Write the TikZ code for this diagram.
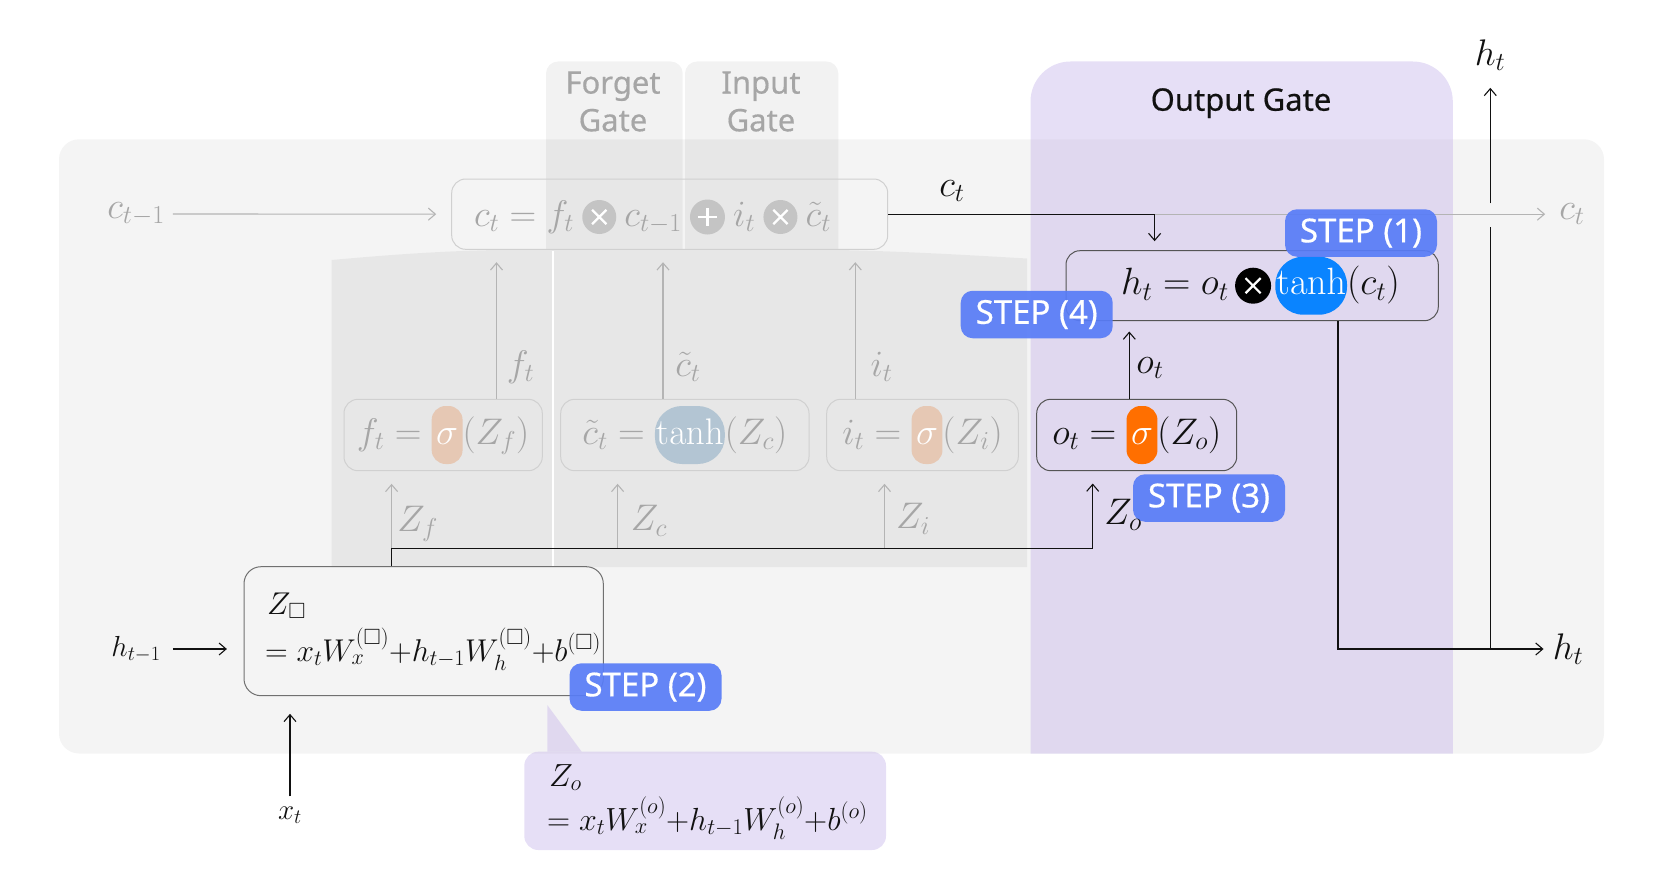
\RequirePackage{fix-cm}
\documentclass[tikz,border=0pt]{standalone}
\usepackage[no-math]{fontspec}
\usepackage{amssymb}
\usetikzlibrary{arrows.meta}
\newfontfamily\uisans{Noto Sans}[FakeBold=0.5]
\definecolor{bggray}{HTML}{F4F4F4}
\definecolor{fadetext}{HTML}{A6A6A6}
\definecolor{fadeline}{HTML}{B4B4B4}
\definecolor{fadeborder}{HTML}{D0D0D0}
\definecolor{fadecirc}{HTML}{C4C4C4}
\definecolor{fadesig}{HTML}{E6C8B4}
\definecolor{fadetanh}{HTML}{B3C5D3}
\definecolor{actsig}{HTML}{FF6F00}
\definecolor{acttanh}{HTML}{0A84FF}
\definecolor{stepblue}{HTML}{587CF7}
\definecolor{purplebase}{RGB}{200,184,235}
\definecolor{inkblack}{HTML}{111111}
\definecolor{darkborder}{HTML}{555555}
\definecolor{zborder}{HTML}{707070}
\newcommand\eqfont{\fontsize{37}{44}\selectfont}
\newcommand\heqfont{\fontsize{38}{45}\selectfont}
\newcommand\smfont{\fontsize{29}{35}\selectfont}
\newcommand\zfont{\fontsize{31.5}{38}\selectfont}
\newcommand\cofont{\fontsize{32}{38}\selectfont}
\newcommand\opcross[3]{\tikz[baseline=-9.25pt,x=1pt,y=1pt]{\fill[#1] (0,0) circle[radius=#3];\draw[#2,line width=2.2pt] (-0.42*#3,-0.42*#3) -- (0.42*#3,0.42*#3) (-0.42*#3,0.42*#3) -- (0.42*#3,-0.42*#3);}}
\newcommand\opplus[3]{\tikz[baseline=-9.25pt,x=1pt,y=1pt]{\fill[#1] (0,0) circle[radius=#3];\draw[#2,line width=2.2pt] (-0.52*#3,0) -- (0.52*#3,0) (0,-0.52*#3) -- (0,0.52*#3);}}
\newcommand\pill[4]{\tikz[baseline=(pillnode.base)]\node[draw=none,fill=#1,text=white,rounded corners=#2,minimum width=0pt,minimum height=0pt,inner xsep=#3,inner ysep=0pt,outer sep=0pt,text height=38.25pt,text depth=19.75pt] (pillnode) {$#4$};}
\begin{document}
\begin{tikzpicture}[x=1pt,y=-1pt,
  fadebox/.style={draw=fadeborder,line width=1pt,rounded corners=14pt,inner sep=0pt},
  actbox/.style={draw=darkborder,line width=1pt,rounded corners=14pt,inner sep=0pt},
  eqnode/.style={inner sep=0pt,text height=38.25pt,text depth=19.75pt,font=\eqfont},
  feq/.style={eqnode,text=fadetext},
  aeq/.style={eqnode,text=inkblack},
  mlbl/.style={inner sep=0pt,font=\eqfont,text=inkblack},
  flbl/.style={inner sep=0pt,font=\eqfont,text=fadetext},
  slbl/.style={inner sep=0pt,font=\smfont,text=inkblack},
  zlbl/.style={inner sep=0pt,font=\zfont,text=inkblack},
  clbl/.style={inner sep=0pt,font=\cofont,text=inkblack},
  conn/.style={line width=1.1pt,draw=inkblack},
  fconn/.style={line width=1.1pt,draw=fadeline},
  arrowend/.style={-{Straight Barb[length=7pt,width=12pt]}},
  stepbadge/.style={fill=stepblue,fill opacity=0.92,text opacity=1,text=white,rounded corners=12pt,minimum width=152pt,minimum height=47.5pt,inner sep=0pt,font=\uisans\fontsize{33}{40}\selectfont},
  gatelbl/.style={inner sep=0pt,align=center,font=\uisans\fontsize{31}{37.7}\selectfont}
]
\useasboundingbox (0,0) rectangle (1664,888);
% backgrounds
\fill[bggray,rounded corners=20pt] (59,139.3) rectangle (1604,753.5);
\fill[black,fill opacity=0.05] (331.5,260) .. controls (420,252) and (470,249.8) .. (540,249.5) -- (800,249.5) .. controls (880,250) and (950,254) .. (1027,258.5) -- (1027,567) -- (331.5,567) -- cycle;
\draw[white,line width=2pt] (552.5,251) -- (552.5,567);
\fill[black,fill opacity=0.05,rounded corners=12pt] (546,249.3) -- (546,61.5) -- (682.7,61.5) -- (682.7,249.3);
\fill[black,fill opacity=0.05,rounded corners=12pt] (685,249.3) -- (685,61.5) -- (838.3,61.5) -- (838.3,249.3);
\fill[purplebase,fill opacity=0.45,rounded corners=40pt] (1030.5,753.5) -- (1030.5,61.5) -- (1452.8,61.5) -- (1452.8,753.5);
\fill[purplebase,fill opacity=0.45,rounded corners=14pt] (524.3,751.7) rectangle (886,850);
\fill[purplebase,fill opacity=0.45] (547.3,705) -- (547.3,751.7) -- (581.7,751.7) -- cycle;
% gate titles
\node[gatelbl,text=fadetext] (fglbl) at (613,101.5) {Forget\\Gate};
\node[gatelbl,text=fadetext] (iglbl) at (761,101.5) {Input\\Gate};
\node[gatelbl,text=inkblack,anchor=base] (oglbl) at (1241,110.7) {Output Gate};
% boxes
\node[fadebox,minimum width=436pt,minimum height=70.3pt] (cbox) at (669.7,214.15) {};
\node[feq] (ceq) at (652.5,217) {$c_t = f_t\mathbin{\opcross{fadecirc}{white}{17}}c_{t-1}\mathbin{\opplus{fadecirc}{white}{17.5}}i_t\mathbin{\opcross{fadecirc}{white}{17}}\tilde{c}_t$};
\node[fadebox,feq,minimum width=198.3pt,minimum height=71.4pt] (fbox) at (443.15,435) {$f_t = \pill{fadesig}{14pt}{4.5pt}{\sigma}(Z_f)$};
\node[fadebox,feq,minimum width=248.3pt,minimum height=71.4pt] (cfbox) at (684.85,435) {$\tilde{c}_t = \pill{fadetanh}{27pt}{1pt}{\mathrm{tanh}}(Z_c)$};
\node[fadebox,feq,minimum width=191.6pt,minimum height=71.4pt] (ibox) at (922.5,435) {$i_t = \pill{fadesig}{14pt}{4.5pt}{\sigma}(Z_i)$};
\node[actbox,aeq,minimum width=200pt,minimum height=71.4pt] (obox) at (1136.7,435) {$o_t = \pill{actsig}{14pt}{4.5pt}{\sigma}(Z_o)$};
\node[actbox,minimum width=372.3pt,minimum height=70pt] (hbox) at (1252.15,285.7) {};
\node[aeq,font=\heqfont] (heq) at (1260.5,285.7) {$h_t = o_t\mkern3mu\opcross{black}{white}{18}\mkern2mu\pill{acttanh}{28pt}{1pt}{\mathrm{tanh}}(c_t)$};
\node[draw=zborder,line width=1pt,rounded corners=17pt,minimum width=359.3pt,minimum height=129pt,inner sep=0pt] (zbox) at (423.65,631.2) {};
\node[zlbl,anchor=base west] (zl1) at (267,614) {$Z_\square$};
\node[zlbl,anchor=base west] (zl2) at (265,661) {$=x_tW_x^{(\square)}{+}h_{t-1}W_h^{(\square)}{+}b^{(\square)}$};
\node[clbl,anchor=base west] (col1) at (549,786) {$Z_o$};
\node[clbl,anchor=base west] (col2) at (547,830) {$=x_tW_x^{(o)}{+}h_{t-1}W_h^{(o)}{+}b^{(o)}$};
% labels
\node[flbl] (ctm1) at (136,214) {$c_{t-1}$};
\node[mlbl] (ctlbl) at (952,191) {$c_t$};
\node[flbl] (ctout) at (1572,214.15) {$c_t$};
\node[mlbl] (htop) at (1490,55) {$h_t$};
\node[mlbl] (hright) at (1568,649) {$h_t$};
\node[slbl] (htm1) at (136,649) {$h_{t-1}$};
\node[slbl] (xt) at (290,815) {$x_t$};
\node[flbl] (ftlbl) at (520.5,367) {$f_t$};
\node[flbl] (ctildelbl) at (688,367) {$\tilde{c}_t$};
\node[flbl] (itlbl) at (881.5,367) {$i_t$};
\node[flbl] (zflbl) at (417.6,524) {$Z_f$};
\node[flbl] (zclbl) at (649,521) {$Z_c$};
\node[flbl] (zilbl) at (913,519) {$Z_i$};
\node[mlbl] (otlbl) at (1150,368) {$o_t$};
% coordinates
\coordinate (ctsplit) at (1154.6,214.15);
\coordinate (hjunc) at (1490.3,649);
\coordinate (hdown) at (1338,649);
\coordinate (hopA) at (1490.3,226.7);
\coordinate (hopB) at (1490.3,203.3);
\coordinate (oarrx) at (1129.3,0);
\coordinate (zbus) at (391.6,548.3);
\coordinate (zcbus) at (617.6,548.3);
\coordinate (zibus) at (884.5,548.3);
\coordinate (zoturn) at (1092.7,548.3);
\coordinate (fupx) at (496.5,0);
\coordinate (cupx) at (663,0);
\coordinate (iupx) at (855.3,0);
% connectors
\draw[fconn,arrowend,shorten <=8pt,shorten >=15pt] (ctm1.east) -- (cbox.west);
\draw[fconn,arrowend,shorten >=14pt] (ctsplit) -- (ctout.west);
\draw[conn,arrowend,shorten >=9pt] (cbox.east) -- (ctsplit) -- (ctsplit |- hbox.north);
\draw[conn,arrowend,shorten >=9pt] (hdown |- hbox.south) -- (hdown) -- (hright.west);
\draw[conn] (hjunc) -- (hopA);
\draw[conn,arrowend,shorten >=17pt] (hopB) -- (hopB |- htop.south);
\draw[conn,arrowend,shorten >=10.3pt] (obox.north -| oarrx) -- (hbox.south -| oarrx);
\draw[fconn,arrowend,shorten >=12.6pt] (zbus) -- (zbus |- fbox.south);
\draw[fconn,arrowend,shorten >=12.6pt] (zcbus) -- (zcbus |- cfbox.south);
\draw[fconn,arrowend,shorten >=12.6pt] (zibus) -- (zibus |- ibox.south);
\draw[conn,arrowend,shorten >=12.3pt] (zbus |- zbox.north) -- (zbus) -- (zoturn) -- (zoturn |- obox.south);
\draw[fconn,arrowend,shorten >=12.4pt] (fbox.north -| fupx) -- (cbox.south -| fupx);
\draw[fconn,arrowend,shorten >=12.4pt] (cfbox.north -| cupx) -- (cbox.south -| cupx);
\draw[fconn,arrowend,shorten >=12.4pt] (ibox.north -| iupx) -- (cbox.south -| iupx);
\draw[conn,arrowend,shorten <=12pt,shorten >=16.6pt] (htm1.east) -- (htm1.east -| zbox.west);
\draw[conn,arrowend,shorten <=10pt,shorten >=17.6pt] (xt.north) -- (xt.north |- zbox.south);
% badges
\node[stepbadge] (s1) at (1361,233) {STEP (1)};
\node[stepbadge] (s4) at (1036.7,314.5) {STEP (4)};
\node[stepbadge] (s3) at (1209,498) {STEP (3)};
\node[stepbadge] (s2) at (645.5,687) {STEP (2)};
\node[mlbl] (zolbl) at (1123,515) {$Z_o$};
\end{tikzpicture}
\end{document}
